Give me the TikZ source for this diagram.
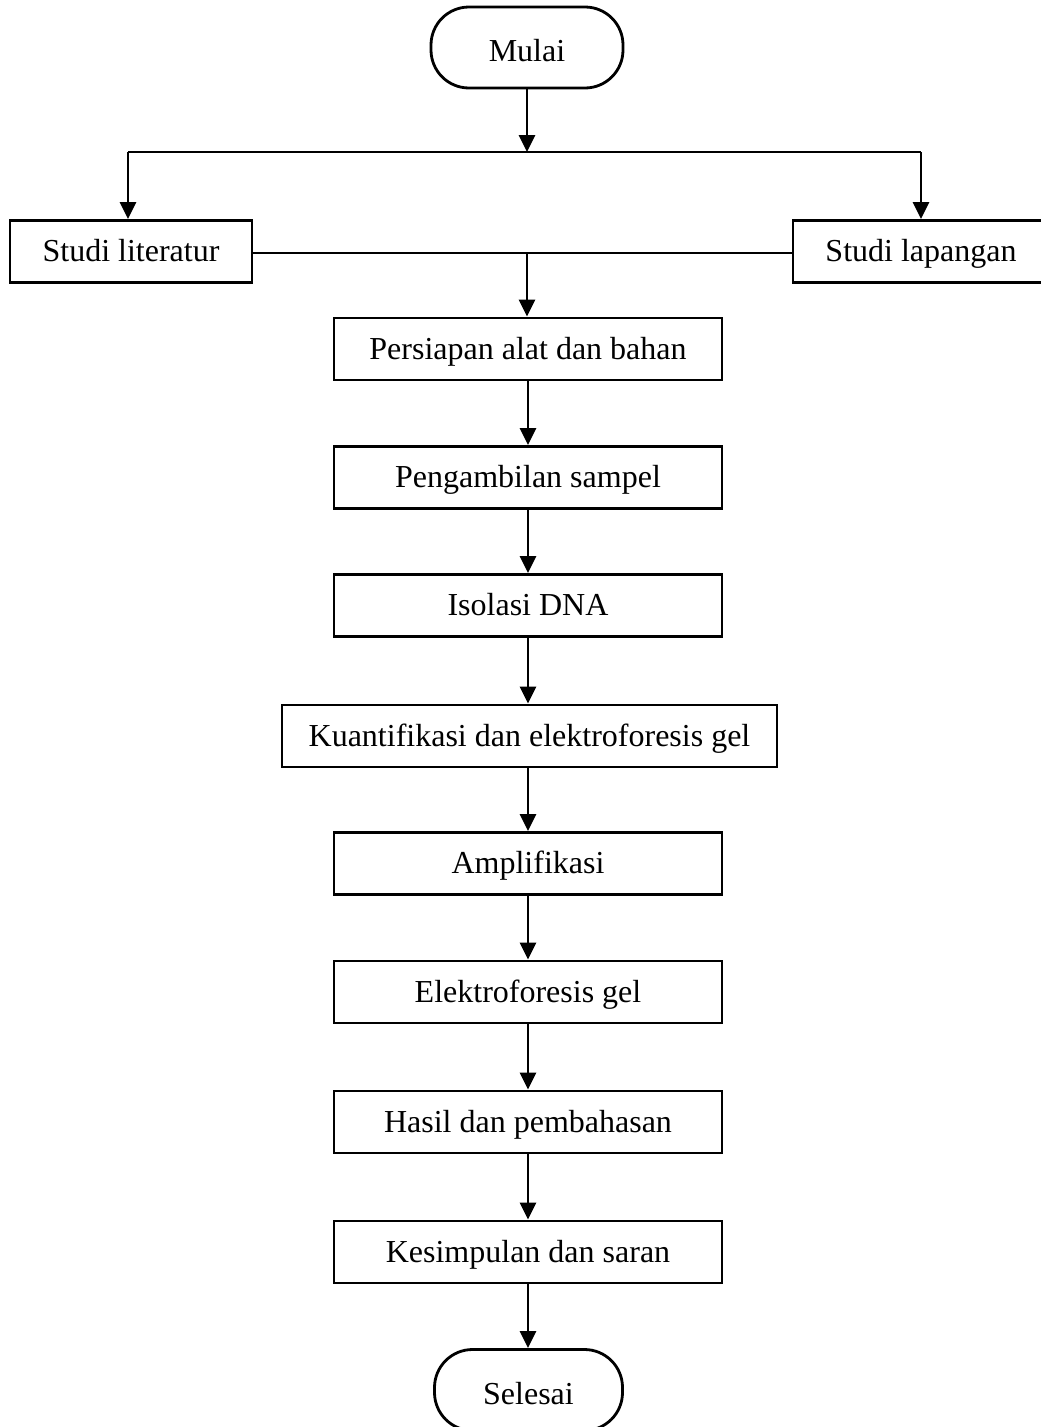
\documentclass[tikz,border=0pt]{standalone}
\usepackage{fontspec}
\setmainfont{Liberation Serif}
\usetikzlibrary{arrows.meta}
\begin{document}
\begin{tikzpicture}[x=1pt,y=-1pt,
  every node/.style={font=\fontsize{32}{38}\selectfont, inner sep=0pt},
  procbox/.style={draw, line width=2.8pt, rectangle, minimum height=62pt, text height=27pt, text depth=7pt},
  termbox/.style={draw, line width=2.8pt, rectangle, rounded corners=38pt, minimum width=192pt, minimum height=81pt, text height=35pt, text depth=7pt},
  flow/.style={line width=2.8pt, -{Triangle[length=17pt,width=16pt]}},
  link/.style={line width=2.8pt}]
\useasboundingbox (0,0) rectangle (1041,1427);
\clip (0,0) rectangle (1041,1427);
\node[termbox] (mulai) at (527,47.5) {Mulai};
\node[procbox, minimum width=242pt] (lit) at (131,251.5) {Studi literatur};
\node[procbox, minimum width=256pt] (lap) at (921,251.5) {Studi lapangan};
\node[procbox, minimum width=388pt] (prep) at (528,349) {Persiapan alat dan bahan};
\node[procbox, minimum width=388pt] (samp) at (528,477.5) {Pengambilan sampel};
\node[procbox, minimum width=388pt] (iso) at (528,605.5) {Isolasi DNA};
\node[procbox, minimum width=495pt] (kuan) at (529.5,736) {Kuantifikasi dan elektroforesis gel};
\node[procbox, minimum width=388pt] (amp) at (528,863.5) {Amplifikasi};
\node[procbox, minimum width=388pt] (elek) at (528,992) {Elektroforesis gel};
\node[procbox, minimum width=388pt] (hasil) at (528,1122) {Hasil dan pembahasan};
\node[procbox, minimum width=388pt] (kes) at (528,1252) {Kesimpulan dan saran};
\node[termbox, minimum width=188pt] (selesai) at (528.5,1390) {Selesai};
\coordinate (jc) at (527,152);
\coordinate (jl) at (128,152);
\coordinate (jr) at (921,152);
\coordinate (mc) at (527,253);
\draw[flow] (mulai.south) -- (jc);
\draw[link] (jl) -- (jr);
\draw[flow] (jl) -- (jl |- lit.north);
\draw[flow] (jr) -- (jr |- lap.north);
\draw[link] (lit.east |- mc) -- (lap.west |- mc);
\draw[flow] (mc) -- (mc |- prep.north);
\draw[flow] (prep.south) -- (samp.north);
\draw[flow] (samp.south) -- (iso.north);
\draw[flow] (iso.south) -- (iso.south |- kuan.north);
\draw[flow] (iso.south |- kuan.south) -- (amp.north);
\draw[flow] (amp.south) -- (elek.north);
\draw[flow] (elek.south) -- (hasil.north);
\draw[flow] (hasil.south) -- (kes.north);
\draw[flow] (kes.south) -- (kes.south |- selesai.north);
\end{tikzpicture}
\end{document}
